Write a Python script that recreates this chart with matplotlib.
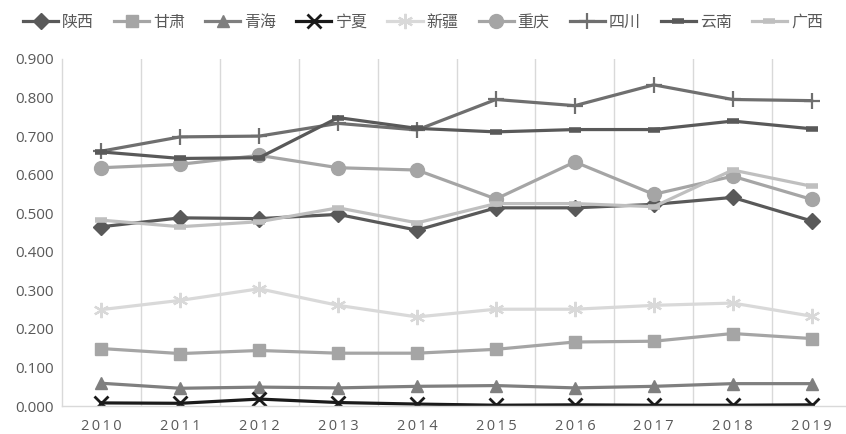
import matplotlib
matplotlib.use("Agg")
import matplotlib.pyplot as plt
from matplotlib.ticker import FormatStrFormatter

plt.rcParams['font.family'] = ['Noto Sans CJK SC', 'DejaVu Sans']

years = [2010, 2011, 2012, 2013, 2014, 2015, 2016, 2017, 2018, 2019]

shaanxi   = [0.465, 0.488, 0.486, 0.497, 0.456, 0.514, 0.514, 0.523, 0.541, 0.480]
gansu     = [0.149, 0.136, 0.144, 0.137, 0.137, 0.147, 0.166, 0.168, 0.188, 0.175]
qinghai   = [0.059, 0.046, 0.049, 0.047, 0.051, 0.053, 0.047, 0.051, 0.058, 0.058]
ningxia   = [0.008, 0.007, 0.018, 0.009, 0.005, 0.002, 0.003, 0.002, 0.002, 0.003]
xinjiang  = [0.250, 0.274, 0.304, 0.261, 0.231, 0.251, 0.251, 0.261, 0.267, 0.233]
chongqing = [0.618, 0.627, 0.650, 0.618, 0.612, 0.537, 0.633, 0.549, 0.596, 0.536]
sichuan   = [0.661, 0.698, 0.700, 0.733, 0.716, 0.795, 0.779, 0.833, 0.795, 0.792]
yunnan    = [0.659, 0.642, 0.644, 0.748, 0.720, 0.711, 0.717, 0.717, 0.739, 0.719]
guangxi   = [0.482, 0.465, 0.478, 0.514, 0.475, 0.525, 0.525, 0.517, 0.612, 0.570]

series = [
    ("陕西", shaanxi,   "#595959", dict(marker="D", ms=8)),
    ("甘肃", gansu,     "#a5a5a5", dict(marker="s", ms=9)),
    ("青海", qinghai,   "#7f7f7f", dict(marker="^", ms=9)),
    ("宁夏", ningxia,   "#1a1a1a", dict(marker="x", ms=10, mew=2)),
    ("新疆", xinjiang,  "#d9d9d9", dict(marker=(6, 2, 0), ms=11, mew=1.6)),
    ("重庆", chongqing, "#a5a5a5", dict(marker="o", ms=10)),
    ("四川", sichuan,   "#6f6f6f", dict(marker="+", ms=11, mew=1.6)),
    ("云南", yunnan,    "#595959", dict(marker="_", ms=8, mew=4)),
    ("广西", guangxi,   "#bfbfbf", dict(marker="_", ms=8, mew=4)),
]

fig = plt.figure(figsize=(8.46, 4.34), dpi=100)
ax = fig.add_axes([62 / 846, 28 / 434, 789 / 846, 347 / 434])

x = list(range(len(years)))
for name, vals, color, mk in series:
    ax.plot(x, vals, color=color, lw=2.3, label=name, **mk)

ax.set_xlim(-0.5, len(years) - 0.5)
ax.set_ylim(0, 0.9)
ax.set_yticks([i / 10 for i in range(10)])
ax.yaxis.set_major_formatter(FormatStrFormatter('%.3f'))
ax.set_xticks(x)
ax.set_xticklabels(['\u2009'.join(str(y)) for y in years])

# category separators
for b in range(len(years)):
    ax.axvline(b + 0.5, color="#d9d9d9", lw=1, zorder=0)

for s in ("top", "right"):
    ax.spines[s].set_visible(False)
for s in ("left", "bottom"):
    ax.spines[s].set_color("#d9d9d9")
    ax.spines[s].set_linewidth(1)

ax.tick_params(axis="both", length=0, colors="#595959")
ax.tick_params(axis="y", pad=6, labelsize=11)
ax.tick_params(axis="x", pad=9, labelsize=10.5)
for lab in ax.get_yticklabels() + ax.get_xticklabels():
    lab.set_family(["Open Sans", "DejaVu Sans"])

leg = fig.legend(loc="center", bbox_to_anchor=(0.5, 1 - 22 / 434), ncol=9,
                 frameon=False, fontsize=11.5, handlelength=2.2,
                 handletextpad=0.25, columnspacing=1.25)
for t in leg.get_texts():
    t.set_color("#595959")

fig.savefig("out.png", dpi=100)
